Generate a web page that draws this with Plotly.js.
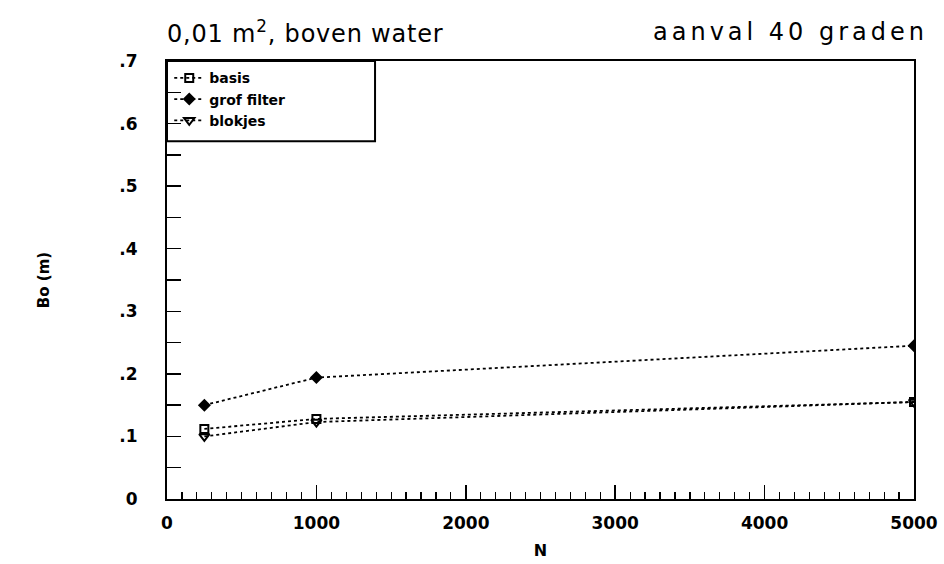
<!DOCTYPE html>
<html>
<head>
<meta charset="utf-8">
<script src="https://cdn.plot.ly/plotly-3.0.1.min.js"></script>
<style>
body{margin:0;background:#fff}#chart{width:944px;height:564px}
g.annotation[data-index="0"] text{letter-spacing:0.8px}
g.annotation[data-index="1"] text{letter-spacing:4px}
</style>
</head>
<body>
<div id="chart"></div>
<script>
const xN = [250, 1000, 5000];
const basis = [0.112, 0.128, 0.155];
const grofFilter = [0.150, 0.194, 0.245];
const blokjes = [0.100, 0.123, 0.155];
const seriesNames = ['basis', 'grof filter', 'blokjes'];
const yTickVals = [0, 0.1, 0.2, 0.3, 0.4, 0.5, 0.6, 0.7];
const yTickText = ['0', '.1', '.2', '.3', '.4', '.5', '.6', '.7'];
const xTickVals = [0, 1000, 2000, 3000, 4000, 5000];
const xTickText = ['0', '1000', '2000', '3000', '4000', '5000'];
const titleLeft = '0,01 m<sup>2</sup>, boven water';
const titleRight = 'aanval 40 graden';

const lineStyle = {color: '#000', width: 1.8, dash: 'dot'};
const traces = [
  {x: xN, y: basis, name: seriesNames[0], mode: 'lines+markers', line: lineStyle,
   marker: {symbol: 'square-open', size: 8, color: '#000', line: {width: 2, color: '#000'}}},
  {x: xN, y: grofFilter, name: seriesNames[1], mode: 'lines+markers', line: lineStyle,
   marker: {symbol: 'diamond', size: 10, color: '#000'}},
  {x: xN, y: blokjes, name: seriesNames[2], mode: 'lines+markers', line: lineStyle,
   marker: {symbol: 'triangle-down-open', size: 9, color: '#000', line: {width: 2, color: '#000'}}}
];

const boldFam = 'DejaVu Sans, Liberation Sans, sans-serif';
const tickFont = {family: boldFam, size: 17, color: '#000', weight: 'bold'};
const layout = {
  width: 944, height: 564,
  margin: {l: 167, r: 30, t: 61, b: 65},
  paper_bgcolor: '#fff', plot_bgcolor: '#fff',
  showlegend: true,
  legend: {x: 0.003, y: 0.997, xanchor: 'left', yanchor: 'top', bgcolor: 'rgba(0,0,0,0)',
    borderwidth: 0,
    font: {family: boldFam, size: 14, color: '#000', weight: 'bold'},
    tracegroupgap: 0, itemwidth: 30},
  shapes: [
    {type: 'rect', xref: 'paper', yref: 'paper', x0: 0, x1: 0.2785, y0: 0.817, y1: 1,
     line: {color: '#000', width: 2}, fillcolor: 'rgba(0,0,0,0)'}
  ],
  xaxis: {
    range: [0, 5000], tickvals: xTickVals, ticktext: xTickText,
    ticks: 'inside', ticklen: 14, tickwidth: 1.5, tickcolor: '#000',
    minor: {dtick: 100, ticks: 'inside', ticklen: 7, tickwidth: 1.2, tickcolor: '#000'},
    showline: true, linecolor: '#000', linewidth: 2, mirror: true,
    showgrid: false, zeroline: false, tickfont: tickFont, ticklabelstandoff: 8,
    title: {text: 'N', font: {family: boldFam, size: 16, color: '#000', weight: 'bold'}, standoff: 12}
  },
  yaxis: {
    range: [0, 0.7], tickvals: yTickVals, ticktext: yTickText,
    ticks: 'inside', ticklen: 14, tickwidth: 1.5, tickcolor: '#000',
    minor: {dtick: 0.05, ticks: 'inside', ticklen: 14, tickwidth: 1.5, tickcolor: '#000'},
    showline: true, linecolor: '#000', linewidth: 2, mirror: true,
    showgrid: false, zeroline: false, tickfont: tickFont, ticklabelstandoff: 24,
    title: {text: 'Bo (m)', font: {family: boldFam, size: 15, color: '#000', weight: 'bold'}, standoff: 66}
  },
  annotations: [
    {xref: 'paper', yref: 'paper', x: 0, y: 1, xshift: 6, yshift: 29, xanchor: 'left', yanchor: 'middle',
     text: titleLeft, showarrow: false, font: {family: 'DejaVu Sans, sans-serif', size: 24, color: '#000'}},
    {xref: 'paper', yref: 'paper', x: 0.6908, y: 1, yshift: 29, xanchor: 'left', yanchor: 'middle',
     text: titleRight, showarrow: false, font: {family: 'DejaVu Sans, sans-serif', size: 24, color: '#000'}}
  ]
};
Plotly.newPlot('chart', traces, layout, {displayModeBar: false, staticPlot: true});
</script>
</body>
</html>
